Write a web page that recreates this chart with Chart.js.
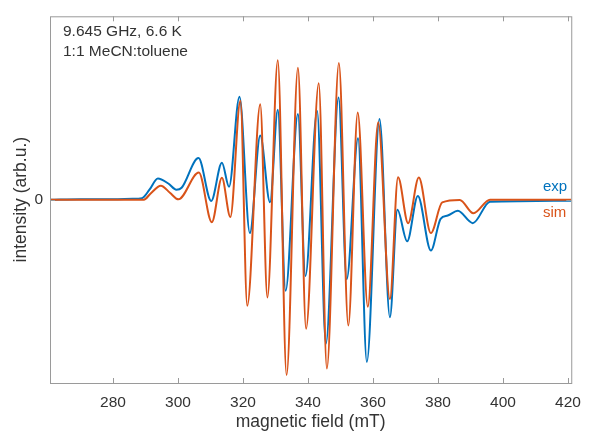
<!DOCTYPE html>
<html lang="en">
<head>
<meta charset="UTF-8">
<title>EPR spectrum</title>
<script src="https://cdn.jsdelivr.net/npm/chart.js"></script>
<style>
  html, body { margin: 0; padding: 0; background: #fff; }
</style>
</head>
<body>
<canvas id="eprChart" width="591" height="432"></canvas>
<script>
// experimental trace (field in mT, intensity in arb. units)
const expField = [260.6, 270, 280, 286, 288.9, 291.2, 293.8, 297.0, 299.5, 301.1, 306.3, 310.2, 313.5, 315.7,
    318.9, 322.1, 325.3, 328.3, 330.7, 333.1, 336.9, 339.2, 342.8, 345.5, 349.4, 351.9, 355.4, 358.1,
    362.0, 365.2, 367.5, 370.5, 373.8, 377.8, 380.8, 383.0, 386.1, 390.7, 396.0, 405, 421];
const expIntensity = [0, 0.5, 0.3, 0.8, 1.5, 10, 21.3, 16.3, 10, 12, 42, -1.3, 37.3, 13,
    103.7, -33.7, 64.7, -2.7, 90.7, -92, 86.3, -77, 89.5, -145.3, 103, -80.3, 62, -163.7,
    81.3, -118.7, -10.3, -42, 3.7, -51.3, -19.3, -16, -11.3, -23.7, -2, -1.5, -1];

// simulated trace
const simField = [260.6, 280, 289.5, 291.5, 294.7, 297.5, 300.1, 306.4, 310.4, 313.5, 316.1, 319.2, 321.3,
    325.3, 327.5, 330.7, 333.4, 336.9, 339.4, 343.3, 345.8, 349.5, 352.4, 355.3, 358.4, 361.6, 365.2,
    367.7, 370.8, 374.1, 377.8, 381.3, 386.7, 390.9, 396, 421];
const simIntensity = [0, 0, 0, 6, 14, 7, 0.3, 27.3, -22.7, 22, -17.5, 99.7, -107,
    96.3, -98.7, 140.7, -177, 133, -130.3, 117.5, -170.3, 138, -127, 88, -108, 78, -100.3,
    22.5, -23.7, 22.3, -33.7, -2.7, -0.3, -13.7, 0, 0];

const fieldTicks = [280, 300, 320, 340, 360, 380, 400, 420];
const intensityTicks = [0];
const noteLines = ['9.645 GHz, 6.6 K', '1:1 MeCN:toluene'];

const expColor = '#0072BD';
const simColor = '#D95319';
const textColor = '#333333';
const frameColor = '#9a9a9a';
const fontFamily = '"Liberation Sans", Arial, sans-serif';

// box, inward ticks and text labels
const framePlugin = {
    id: 'frame',
    afterDatasetsDraw(chart) {
        const { ctx, chartArea: a, scales: { x, y } } = chart;
        ctx.save();
        ctx.strokeStyle = frameColor;
        ctx.lineWidth = 1;
        ctx.strokeRect(a.left + 0.5, a.top + 0.5, a.right - a.left, a.bottom - a.top);
        ctx.beginPath();
        fieldTicks.forEach(v => {
            const px = Math.round(x.getPixelForValue(v)) + 0.5;
            ctx.moveTo(px, a.bottom);
            ctx.lineTo(px, a.bottom - 5);
            ctx.moveTo(px, a.top);
            ctx.lineTo(px, a.top + 5);
        });
        intensityTicks.forEach(v => {
            const py = Math.round(y.getPixelForValue(v)) + 0.5;
            ctx.moveTo(a.left, py);
            ctx.lineTo(a.left + 5, py);
            ctx.moveTo(a.right, py);
            ctx.lineTo(a.right - 5, py);
        });
        ctx.stroke();

        ctx.font = '15.5px ' + fontFamily;
        ctx.textBaseline = 'middle';
        ctx.textAlign = 'left';
        ctx.fillStyle = textColor;
        ctx.fillText(noteLines[0], 63, 32);
        ctx.fillText(noteLines[1], 63, 52);
        ctx.font = '15px ' + fontFamily;
        ctx.fillStyle = expColor;
        ctx.fillText('exp', 543, 187);
        ctx.fillStyle = simColor;
        ctx.fillText('sim', 543, 213);
        ctx.restore();
    }
};

const ctx = document.getElementById('eprChart').getContext('2d');
new Chart(ctx, {
    type: 'line',
    data: {
        datasets: [{
            label: 'exp',
            data: expField.map((f, i) => ({ x: f, y: expIntensity[i] })),
            borderColor: expColor,
            borderWidth: 2,
            order: 1
        }, {
            label: 'sim',
            data: simField.map((f, i) => ({ x: f, y: simIntensity[i] })),
            borderColor: simColor,
            borderWidth: 2,
            order: 0
        }]
    },
    options: {
        responsive: false,
        animation: false,
        layout: { padding: { left: 0, top: 13, right: 12, bottom: 0 } },
        elements: {
            point: { radius: 0 },
            line: { cubicInterpolationMode: 'monotone', fill: false }
        },
        plugins: { legend: { display: false }, tooltip: { enabled: false } },
        scales: {
            x: {
                type: 'linear',
                min: 260.6,
                max: 421,
                afterBuildTicks: scale => { scale.ticks = fieldTicks.map(v => ({ value: v })); },
                afterFit: scale => { scale.height = 49; },
                grid: { display: false, drawTicks: false },
                border: { display: false },
                ticks: { color: textColor, padding: 10, maxRotation: 0, font: { family: fontFamily, size: 15.5 } },
                title: {
                    display: true,
                    text: 'magnetic field (mT)',
                    color: textColor,
                    padding: { top: 0, bottom: -1 },
                    font: { family: fontFamily, size: 17.5 }
                }
            },
            y: {
                type: 'linear',
                min: -185,
                max: 185,
                afterBuildTicks: scale => { scale.ticks = intensityTicks.map(v => ({ value: v })); },
                afterFit: scale => { scale.width = 50; },
                grid: { display: false, drawTicks: false },
                border: { display: false },
                ticks: { color: textColor, padding: 7, font: { family: fontFamily, size: 15.5 } },
                title: {
                    display: true,
                    text: 'intensity (arb.u.)',
                    color: textColor,
                    padding: { top: 11, bottom: 0 },
                    font: { family: fontFamily, size: 17.5 }
                }
            }
        }
    },
    plugins: [framePlugin]
});
</script>
</body>
</html>
